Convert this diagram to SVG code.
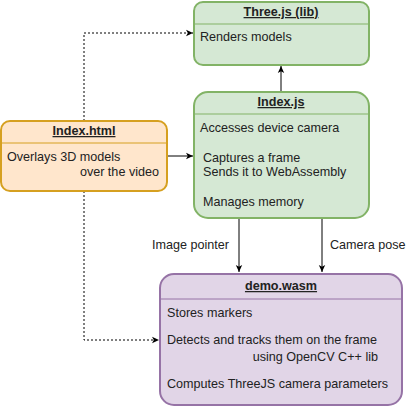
<svg xmlns="http://www.w3.org/2000/svg" width="411" height="408" viewBox="0 0 411 408">
<defs>
<marker id="ah" markerWidth="8" markerHeight="8" refX="7" refY="4" orient="auto" markerUnits="userSpaceOnUse">
<path d="M0,0.8 L7,4 L0,7.2 L1.8,4 Z" fill="#000"/>
</marker>
<style>
text{font-family:"Liberation Sans",Arial,sans-serif;font-size:12.6px;fill:#222}
.t{font-weight:bold;text-decoration:underline;text-anchor:middle}
.g{fill:#d5e8d4;stroke:#82b366;stroke-width:2}
.o{fill:#ffe6cc;stroke:#d6a020;stroke-width:2}
.p{fill:#e1d5e7;stroke:#9673a6;stroke-width:2}
.c{fill:none;stroke:#000;stroke-width:1}
.d{stroke-dasharray:2,2}
</style>
</defs>
<rect width="411" height="408" fill="#fff"/>
<g id="connectors">
<line class="c" x1="281" y1="92" x2="281" y2="66" marker-end="url(#ah)"/>
<line class="c" x1="167" y1="156" x2="193" y2="156" marker-end="url(#ah)"/>
<polyline class="c d" points="84,121 84,33 193,33" marker-end="url(#ah)"/>
<polyline class="c d" points="84,191 84,340 159,340" marker-end="url(#ah)"/>
<line class="c" x1="239" y1="218" x2="239" y2="272" marker-end="url(#ah)"/>
<line class="c" x1="322" y1="218" x2="322" y2="272" marker-end="url(#ah)"/>
<text x="229" y="249" text-anchor="end">Image pointer</text>
<text x="330" y="249">Camera pose</text>
</g>
<g id="threejs">
<rect class="g" x="194" y="2" width="175" height="63" rx="9"/>
<line x1="194" y1="24" x2="369" y2="24" stroke="#82b366"/>
<text class="t" x="281" y="16">Three.js (lib)</text>
<text x="200" y="41">Renders models</text>
</g>
<g id="indexjs">
<rect class="g" x="194" y="92" width="175" height="126" rx="14"/>
<line x1="194" y1="114" x2="369" y2="114" stroke="#82b366"/>
<text class="t" x="281" y="106">Index.js</text>
<text x="200" y="132">Accesses device camera</text>
<text x="203" y="162">Captures a frame</text>
<text x="203" y="176">Sends it to WebAssembly</text>
<text x="203" y="206">Manages memory</text>
</g>
<g id="indexhtml">
<rect class="o" x="1" y="121" width="166" height="70" rx="9"/>
<line x1="1" y1="143" x2="167" y2="143" stroke="#d6a020"/>
<text class="t" x="84" y="135">Index.html</text>
<text x="7" y="161">Overlays 3D models</text>
<text x="159" y="176" text-anchor="end">over the video</text>
</g>
<g id="demowasm">
<rect class="p" x="160" y="274" width="242" height="131" rx="14"/>
<line x1="160" y1="299" x2="402" y2="299" stroke="#9673a6"/>
<text class="t" x="281" y="290">demo.wasm</text>
<text x="167" y="317">Stores markers</text>
<text x="167" y="344">Detects and tracks them on the frame</text>
<text x="378" y="361" text-anchor="end">using OpenCV C++ lib</text>
<text x="167" y="388">Computes ThreeJS camera parameters</text>
</g>
</svg>
